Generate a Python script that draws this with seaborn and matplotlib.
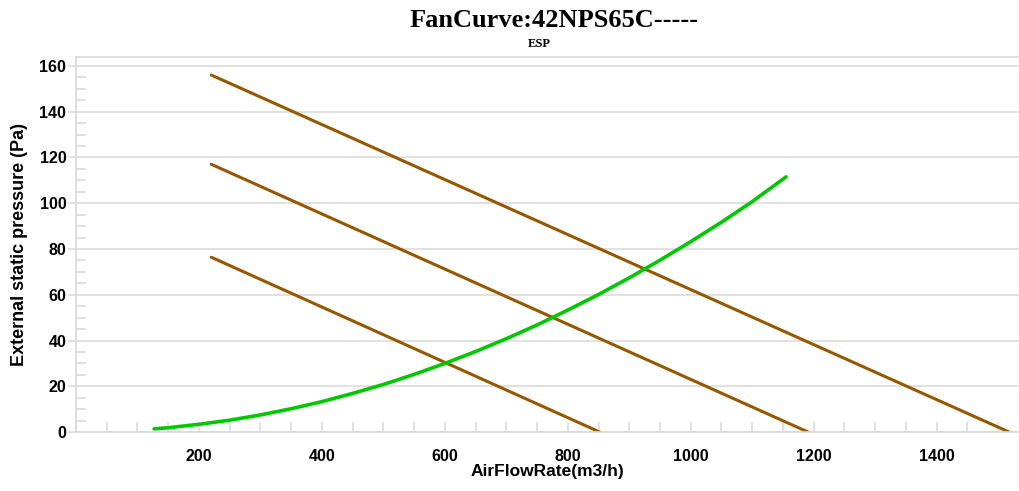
#fan curve chart: ESP lines vs system curve
from matplotlib import pyplot as plt
from matplotlib.ticker import MultipleLocator
import seaborn as sns
import pandas as pd

# brown ESP lines (start / end points)
esp_high_x = [220, 1518]
esp_high_y = [156, 0]
esp_mid_x = [220, 1191]
esp_mid_y = [117, 0]
esp_low_x = [220, 852]
esp_low_y = [76.4, 0]

# green system curve, read every ~50 m3/h
sys_x = [127, 150, 200, 250, 300, 350, 400, 450, 500, 550, 600, 650, 700, 750,
         800, 850, 900, 950, 1000, 1050, 1100, 1155]
sys_y = [1.4, 1.9, 3.4, 5.2, 7.5, 10.2, 13.3, 16.9, 20.8, 25.2, 30.0, 35.2,
         40.8, 46.8, 53.3, 60.1, 67.4, 75.1, 83.2, 91.7, 100.7, 111.5]

title = 'FanCurve:42NPS65C-----'
subtitle = 'ESP'
x_label = 'AirFlowRate(m3/h)'
y_label = 'External static pressure (Pa)'

brown = '#955800'
green = '#00C800'
grid_col = '#d9d9d9'

df_esp = pd.concat([
    pd.DataFrame({'x': esp_high_x, 'y': esp_high_y, 'line': 'high'}),
    pd.DataFrame({'x': esp_mid_x, 'y': esp_mid_y, 'line': 'mid'}),
    pd.DataFrame({'x': esp_low_x, 'y': esp_low_y, 'line': 'low'}),
])
df_sys = pd.DataFrame({'x': sys_x, 'y': sys_y})

sns.set_style('white')
plt.rcParams['font.family'] = ['Liberation Sans', 'DejaVu Sans']
plt.rcParams['text.color'] = 'black'
plt.rcParams['axes.labelcolor'] = 'black'
plt.rcParams['xtick.labelcolor'] = 'black'
plt.rcParams['ytick.labelcolor'] = 'black'

fig = plt.figure(figsize=(10.19, 4.91), dpi=100)
ax = fig.add_axes([0.0746, 0.12, 0.9254, 0.764])

sns.lineplot(data=df_esp, x='x', y='y', units='line', estimator=None,
             color=brown, linewidth=2.2, ax=ax, sort=False)
sns.lineplot(data=df_sys, x='x', y='y', color=green, linewidth=2.6, ax=ax)

ax.set_xlim(0, 1534)
ax.set_ylim(0, 163.9)
ax.xaxis.set_major_locator(MultipleLocator(200))
ax.xaxis.set_minor_locator(MultipleLocator(50))
ax.yaxis.set_major_locator(MultipleLocator(20))
ax.yaxis.set_minor_locator(MultipleLocator(5))
ax.set_xticks([200, 400, 600, 800, 1000, 1200, 1400])

ax.grid(axis='y', color=grid_col, linewidth=1.1)
ax.grid(axis='x', visible=False)
ax.set_axisbelow(True)

for side in ['top', 'bottom', 'left']:
    ax.spines[side].set_visible(True)
    ax.spines[side].set_color(grid_col)
    ax.spines[side].set_linewidth(1.2)
ax.spines['right'].set_visible(False)

ax.tick_params(axis='x', which='both', direction='in', length=7, width=1.1,
               color=grid_col, pad=12, bottom=True)
ax.tick_params(axis='y', which='major', direction='out', length=6, width=1.1,
               color=grid_col, pad=1, left=True)
ax.tick_params(axis='y', which='minor', direction='in', length=7, width=1.1,
               color=grid_col, left=True)
ax.tick_params(axis='both', labelsize=11.5, labelcolor='black')
for lab in ax.get_xticklabels() + ax.get_yticklabels():
    lab.set_fontweight('bold')

ax.set_xlabel(x_label, fontsize=12.5, fontweight='bold', labelpad=0)
ax.set_ylabel(y_label, fontsize=13, fontweight='bold', labelpad=8)

fig.text(0.544, 0.958, title, ha='center', va='center', fontsize=19,
         fontweight='bold', family='Liberation Serif')
fig.text(0.529, 0.91, subtitle, ha='center', va='center', fontsize=9,
         fontweight='bold', family='Liberation Serif')

plt.savefig('out.png', dpi=100)
